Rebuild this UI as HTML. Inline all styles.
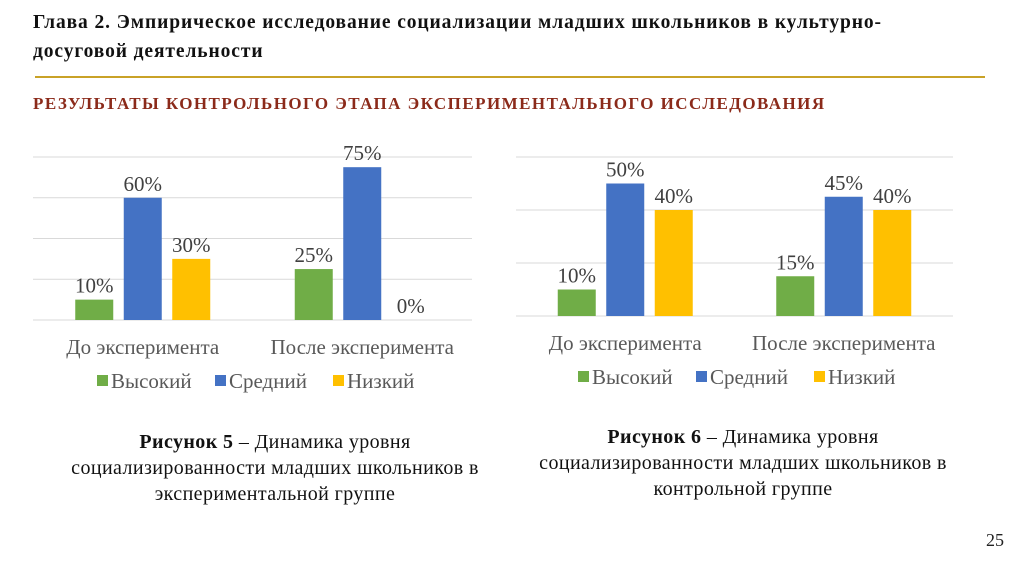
<!DOCTYPE html>
<html><head><meta charset="utf-8"><style>
body{margin:0;width:1024px;height:574px;background:#fff;position:relative;overflow:hidden;font-family:"Liberation Serif",serif;}
.abs{position:absolute;}
</style></head><body>
<div class="abs" style="left:33px;top:8px;width:960px;font-weight:bold;font-size:19.5px;letter-spacing:0.9px;line-height:29px;color:#111;">Глава 2. Эмпирическое исследование социализации младших школьников в культурно-<br>досуговой деятельности</div>
<div class="abs" style="left:35px;top:76px;width:950px;height:2px;background:#c9a227;"></div>
<div class="abs" style="left:33px;top:94px;font-weight:bold;font-size:17px;letter-spacing:1.45px;color:#8b2a1a;white-space:nowrap;">РЕЗУЛЬТАТЫ КОНТРОЛЬНОГО ЭТАПА ЭКСПЕРИМЕНТАЛЬНОГО ИССЛЕДОВАНИЯ</div>
<svg class="abs" style="left:0;top:0" width="1024" height="574" id="svg"></svg>
<div class="abs" style="left:30px;top:429px;width:490px;text-align:center;font-size:20px;letter-spacing:0.4px;line-height:26px;color:#111;"><b>Рисунок 5</b> – Динамика уровня<br>социализированности младших школьников в<br>экспериментальной группе</div>
<div class="abs" style="left:498px;top:424px;width:490px;text-align:center;font-size:20px;letter-spacing:0.4px;line-height:26px;color:#111;"><b>Рисунок 6</b> – Динамика уровня<br>социализированности младших школьников в<br>контрольной группе</div>
<div class="abs" style="left:986px;top:530px;font-size:18px;color:#222;">25</div>
<script>
const categories=["До эксперимента","После эксперимента"];
const seriesNames=["Высокий","Средний","Низкий"];
const colors=["#70ad47","#4472c4","#ffc000"];
const chart1Values=[[10,25],[60,75],[30,0]];
const chart2Values=[[10,15],[50,45],[40,40]];
const chart1Ticks=[0,20,40,60,80];
const chart2Ticks=[0,20,40,60];
const NS="http://www.w3.org/2000/svg";
const svg=document.getElementById('svg');
function mk(t,a){const e=document.createElementNS(NS,t);for(const k in a)e.setAttribute(k,a[k]);svg.appendChild(e);return e;}
function draw(cfg,vals,ticks,id){
  const max=ticks[ticks.length-1];
  const y=v=>cfg.base-(v/max)*(cfg.base-cfg.top);
  const gw=(cfg.x1-cfg.x0)/categories.length;
  ticks.forEach(t=>{const l=mk('line',{x1:cfg.x0,x2:cfg.x1,y1:y(t),y2:y(t),stroke:'#d9d9d9','stroke-width':1});
    
    });
  categories.forEach((c,ci)=>{
    const cx=cfg.x0+gw*(ci+0.5);
    vals.forEach((s,si)=>{
      const bx=cx+(si-1)*48.5-19;
      const r=mk('rect',{x:bx,y:y(s[ci]),width:38,height:cfg.base-y(s[ci]),fill:colors[si]});
      
      
      const t=mk('text',{x:bx+19,y:y(s[ci])-7,'text-anchor':'middle','font-size':21,fill:'#404040','font-family':'Liberation Serif, serif'});
      t.textContent=s[ci]+'%';
      
      
    });
    const lt=mk('text',{x:cx,y:cfg.base+34,'text-anchor':'middle','font-size':21,fill:'#595959','font-family':'Liberation Serif, serif'});
    lt.textContent=c;
    
    
  });
  let lx=cfg.legX;
  seriesNames.forEach((n,si)=>{
    const r=mk('rect',{x:lx,y:cfg.legY-13,width:11,height:11,fill:colors[si]});
    
    
    const t=mk('text',{x:lx+14,y:cfg.legY,'font-size':21,fill:'#595959','font-family':'Liberation Serif, serif'});
    t.textContent=n;
    
    
    lx+=[118,118,0][si];
  });
}
draw({x0:33,x1:472,top:157,base:320,legX:97,legY:388},chart1Values,chart1Ticks,'chart5');
draw({x0:516,x1:953,top:157,base:316,legX:578,legY:384},chart2Values,chart2Ticks,'chart6');
</script>
</body></html>
